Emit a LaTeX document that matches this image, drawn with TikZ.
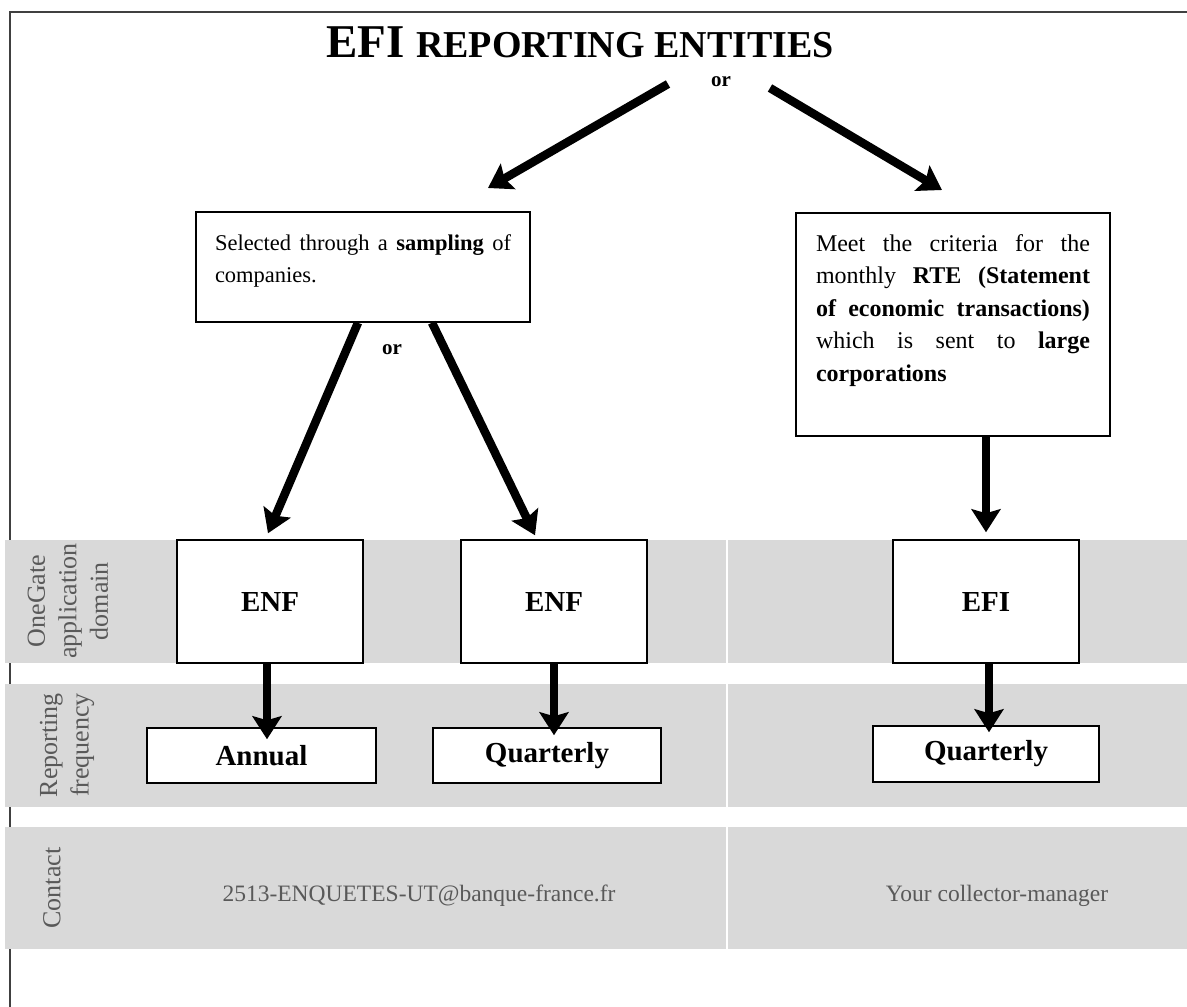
\documentclass[tikz,border=0pt]{standalone}
\usepackage{fontspec}
\setmainfont{Liberation Serif}
\usetikzlibrary{arrows.meta,calc}
\definecolor{bandgray}{RGB}{217,217,217}
\definecolor{labgray}{RGB}{89,89,89}
\definecolor{framegray}{RGB}{64,64,64}
\begin{document}
\begin{tikzpicture}[x=1pt,y=-1pt,
  box/.style={draw=black, line width=1.5pt, fill=white, inner sep=0pt},
  arr/.style={line width=8.5pt, -{Stealth[length=23pt,width=29pt,inset=4pt]}},
  band/.style={fill=bandgray, draw=none},
  side/.style={rotate=90, align=center, text=labgray, font=\fontsize{26}{31.5}\selectfont},
  boxlabel/.style={font=\fontsize{29}{29}\selectfont\bfseries},
  contact/.style={text=labgray, font=\fontsize{23.5}{28}\selectfont},
  ortext/.style={font=\fontsize{21}{21}\selectfont\bfseries},
]
\useasboundingbox (0,0) rectangle (1187,1007);
% frame
\draw[framegray, line width=1.5pt] (10,1007) -- (10,12) -- (1187,12);
% bands
\fill[band] (5,540) rectangle (1187,663);
\fill[band] (5,684) rectangle (1187,807);
\fill[band] (5,827) rectangle (1187,949);
% middle divider
\draw[draw=gray!70!black, line width=0.7pt, double=white, double distance=1.2pt] (727,112) -- (727,949);
% title
\node[anchor=base, inner sep=0] (title) at (580,57) {\bfseries\fontsize{47}{47}\selectfont EFI \fontsize{38}{38}\selectfont REPORTING ENTITIES};
\node[ortext] (or1) at (721,82) {or};
% upper boxes
\node[box, inner xsep=19pt] (b1) at (363,267) {\begin{minipage}[c][110pt][t]{296pt}\fontsize{22.5}{32.5}\selectfont\rule{0pt}{38pt}Selected through a \textbf{sampling} of\linebreak companies.\end{minipage}};
\node[box, inner xsep=20pt] (b2) at (953,324.5) {\begin{minipage}[c][223pt][t]{274pt}\fontsize{24}{32.5}\selectfont\rule{0pt}{38pt}Meet the criteria for the\linebreak monthly \textbf{RTE (Statement\linebreak of economic transactions)}\linebreak which is sent to \textbf{large\linebreak corporations}\end{minipage}};
\node[ortext] (or2) at (392,350) {or};
% domain boxes
\node[box, boxlabel, minimum width=186pt, minimum height=123pt] (e1) at (270,601.5) {ENF};
\node[box, boxlabel, minimum width=186pt, minimum height=123pt] (e2) at (554,601.5) {ENF};
\node[box, boxlabel, minimum width=186pt, minimum height=123pt] (efi) at (986,601.5) {EFI};
% frequency boxes
\node[box, boxlabel, minimum width=229pt, minimum height=55pt] (a1) at (261.5,755.5) {Annual};
\node[box, boxlabel, minimum width=228pt, minimum height=55pt] (q1) at (547,755.5) {Quarterly};
\node[box, boxlabel, minimum width=226pt, minimum height=56pt] (q2) at (986,754) {Quarterly};
% side labels
\node[side] (lab1) at (68,601) {OneGate\\application\\domain};
\node[side] (lab2) at (67,745) {Reporting\\frequency};
\node[side] (lab3) at (52,888) {Contact};
% contacts
\node[contact] (c1) at (419,896) {2513-ENQUETES-UT@banque-france.fr};
\node[contact] (c2) at (997,896) {Your collector-manager};
% arrows
\coordinate (tl) at (668,84);
\coordinate (tlh) at (488,188);
\coordinate (tr) at (770,88);
\coordinate (trh) at (942,190);
\draw[arr] (tl) -- (tlh);
\draw[arr] (tr) -- (trh);
\draw[arr] ($(b1.south)+(-5,0)$) -- ($(e1.north)+(-2,-6)$);
\draw[arr] ($(b1.south)+(69,0)$) -- ($(e2.north)+(-19,-4)$);
\draw[arr] (b2.south -| efi.north) -- ($(efi.north)+(0,-7)$);
\draw[arr] ($(e1.south)+(-3,0)$) -- ($(e1.south |- a1.north)+(-3,12)$);
\draw[arr] (e2.south) -- ($(e2.south |- q1.north)+(0,8)$);
\draw[arr] ($(efi.south)+(3,0)$) -- ($(efi.south |- q2.north)+(3,7)$);
\end{tikzpicture}
\end{document}
